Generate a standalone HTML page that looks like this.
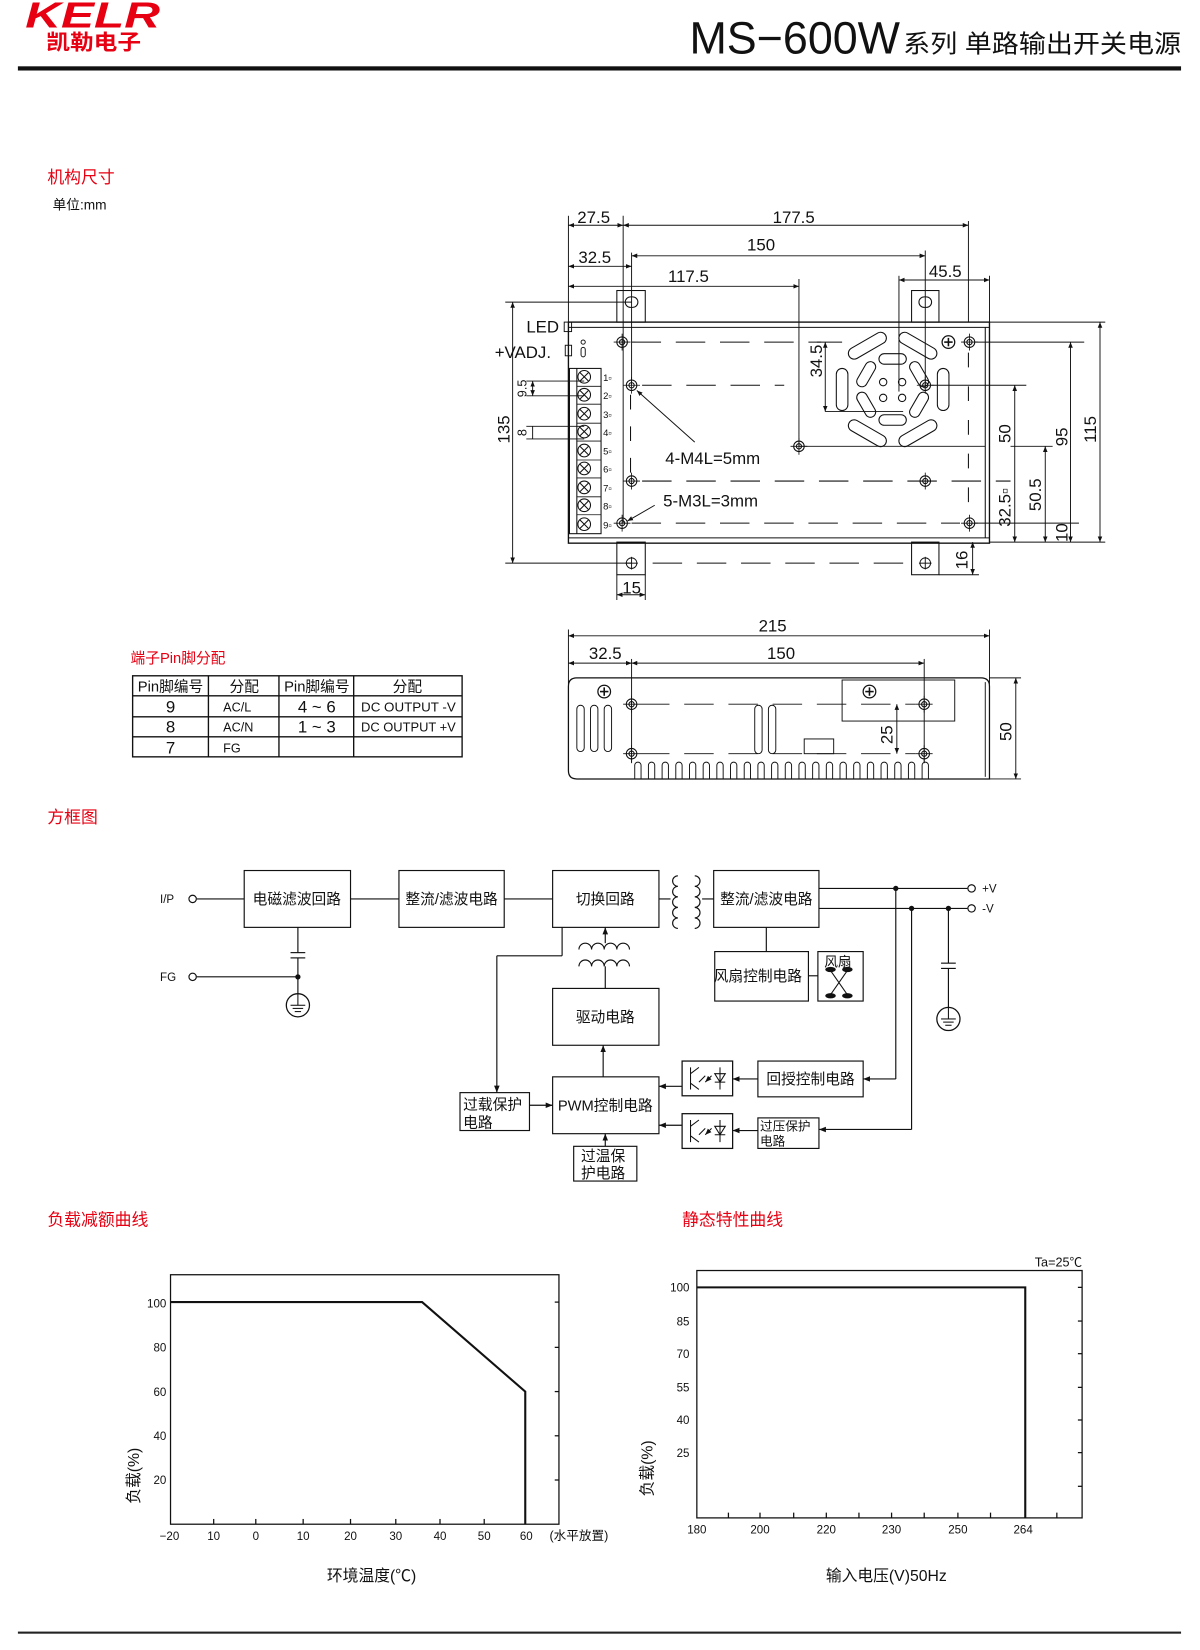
<!DOCTYPE html>
<html><head><meta charset="utf-8"><style>
html,body{margin:0;padding:0;background:#fff;}
svg{display:block;}
text{font-family:"Liberation Sans","Noto Sans CJK SC",sans-serif;fill:#111;}
.red{fill:#e60012;}
</style></head><body>
<svg width="1200" height="1650" viewBox="0 0 1140 1567.5" xmlns="http://www.w3.org/2000/svg">
<defs>
<marker id="a" viewBox="0 0 10 10" refX="10" refY="5" markerWidth="6" markerHeight="6" orient="auto-start-reverse"><path d="M0,1 L10,5 L0,9 z" fill="#111"/></marker>
<g id="hole"><circle r="5" fill="none" stroke="#111" stroke-width="1"/><circle r="2.5" fill="none" stroke="#111" stroke-width="1"/><line x1="-8" y1="0" x2="8" y2="0" stroke="#111" stroke-width="0.8"/><line x1="0" y1="-8" x2="0" y2="8" stroke="#111" stroke-width="0.8"/></g>
<g id="plus"><circle r="6" fill="none" stroke="#111" stroke-width="1.2"/><line x1="-4" y1="0" x2="4" y2="0" stroke="#111" stroke-width="1.5"/><line x1="0" y1="-4" x2="0" y2="4" stroke="#111" stroke-width="1.5"/></g>
<g id="tx"><circle r="6" fill="none" stroke="#111" stroke-width="1"/><line x1="-4" y1="-4" x2="4" y2="4" stroke="#111"/><line x1="-4" y1="4" x2="4" y2="-4" stroke="#111"/></g>
<g id="gnd"><circle r="11" fill="none" stroke="#111" stroke-width="1.2"/><line x1="-7" y1="0" x2="7" y2="0" stroke="#111"/><line x1="-5" y1="3" x2="5" y2="3" stroke="#111"/><line x1="-3" y1="6" x2="3" y2="6" stroke="#111"/><line x1="0" y1="-11" x2="0" y2="0" stroke="#111"/></g>
<g id="opto"><rect x="0" y="0" width="48" height="33" fill="#fff" stroke="#111" stroke-width="1.2"/><path d="M8,6 L8,27 M8,12 L16,6 M8,21 L16,27" stroke="#111" fill="none"/><path d="M22,14 L16,20 M28,14 L22,20" stroke="#111" marker-end="url(#a)"/><path d="M36,6 L36,27 M31,12 L41,12 L36,20 z M31,20 L41,20" stroke="#111" fill="none"/></g>
</defs>

<!-- HEADER -->
<text x="24" y="26" font-size="34" font-weight="bold" font-style="italic" class="red" textLength="128" lengthAdjust="spacingAndGlyphs">KELR</text>
<text x="44" y="47" font-size="20" font-weight="bold" class="red" textLength="90" lengthAdjust="spacingAndGlyphs">凯勒电子</text>
<text x="655" y="51" font-size="43" textLength="200" lengthAdjust="spacingAndGlyphs">MS−600W</text>
<text x="858" y="50" font-size="24" textLength="264" lengthAdjust="spacingAndGlyphs">系列 单路输出开关电源</text>
<rect x="17" y="63" width="1105" height="4" fill="#111"/>

<text x="45" y="174" font-size="16" class="red">机构尺寸</text>
<text x="50" y="199" font-size="13">单位:mm</text>

<!-- TOP VIEW DRAWING -->
<g stroke="#111" stroke-width="1" fill="none">
<rect x="586" y="276" width="27" height="30" fill="#fff"/>
<rect x="866" y="276" width="26" height="30" fill="#fff"/>
<rect x="594" y="282" width="12" height="10" rx="5"/>
<rect x="873" y="282" width="12" height="10" rx="5"/>
<rect x="586" y="515" width="27" height="31"/>
<rect x="866" y="515" width="26" height="31"/>
<rect x="540" y="306" width="400" height="210" stroke-width="1.3"/>
<line x1="540" y1="311" x2="940" y2="311"/>
<line x1="540" y1="511" x2="940" y2="511"/>
<line x1="936" y1="311" x2="936" y2="511"/>
<rect x="541" y="350" width="30" height="157"/>
<line x1="548" y1="350" x2="548" y2="507"/>
</g>
<g>
<use href="#tx" x="555" y="358"/><use href="#tx" x="555" y="375"/><use href="#tx" x="555" y="393"/><use href="#tx" x="555" y="410"/><use href="#tx" x="555" y="428"/><use href="#tx" x="555" y="445"/><use href="#tx" x="555" y="463"/><use href="#tx" x="555" y="480"/><use href="#tx" x="555" y="498"/>
</g>
<g stroke="#111" stroke-width="0.8">
<line x1="548" y1="367" x2="571" y2="367"/><line x1="548" y1="384" x2="571" y2="384"/><line x1="548" y1="402" x2="571" y2="402"/><line x1="548" y1="419" x2="571" y2="419"/><line x1="548" y1="437" x2="571" y2="437"/><line x1="548" y1="454" x2="571" y2="454"/><line x1="548" y1="472" x2="571" y2="472"/><line x1="548" y1="489" x2="571" y2="489"/>
</g>
<g font-size="9"><text x="573" y="362">1▫</text><text x="573" y="379">2▫</text><text x="573" y="397">3▫</text><text x="573" y="414">4▫</text><text x="573" y="432">5▫</text><text x="573" y="449">6▫</text><text x="573" y="467">7▫</text><text x="573" y="484">8▫</text><text x="573" y="502">9▫</text></g>
<!-- dashed lines -->
<g stroke="#111" stroke-width="1" stroke-dasharray="28,14" fill="none">
<line x1="600" y1="325" x2="780" y2="325"/>
<line x1="610" y1="366" x2="745" y2="366"/>
<line x1="610" y1="457" x2="960" y2="457"/>
<line x1="600" y1="497" x2="912" y2="497"/>
<line x1="620" y1="535" x2="866" y2="535"/>
<line x1="599" y1="375" x2="599" y2="450" stroke-dasharray="14,16"/>
<line x1="920" y1="335" x2="920" y2="490" stroke-dasharray="14,18"/>
</g>
<!-- extension/dim lines -->
<g stroke="#111" stroke-width="0.9" fill="none">
<line x1="540" y1="205" x2="540" y2="306"/>
<line x1="592" y1="205" x2="592" y2="497"/>
<line x1="600" y1="240" x2="600" y2="366"/>
<line x1="759" y1="265" x2="759" y2="424"/>
<line x1="879" y1="238" x2="879" y2="366"/>
<line x1="920" y1="210" x2="920" y2="306"/>
<line x1="940" y1="262" x2="940" y2="306"/>
<line x1="854" y1="262" x2="854" y2="372"/>
<line x1="540" y1="214" x2="592" y2="214" marker-start="url(#a)" marker-end="url(#a)"/>
<line x1="592" y1="214" x2="920" y2="214" marker-start="url(#a)" marker-end="url(#a)"/>
<line x1="540" y1="253" x2="600" y2="253" marker-start="url(#a)" marker-end="url(#a)"/>
<line x1="600" y1="243" x2="879" y2="243" marker-start="url(#a)" marker-end="url(#a)"/>
<line x1="540" y1="272" x2="759" y2="272" marker-start="url(#a)" marker-end="url(#a)"/>
<line x1="854" y1="266" x2="940" y2="266" marker-start="url(#a)" marker-end="url(#a)"/>
<line x1="480" y1="287" x2="600" y2="287"/>
<line x1="480" y1="535" x2="600" y2="535"/>
<line x1="487" y1="287" x2="487" y2="535" marker-start="url(#a)" marker-end="url(#a)"/>
<line x1="500" y1="362" x2="555" y2="362"/><line x1="500" y1="376" x2="555" y2="376"/>
<line x1="506" y1="362" x2="506" y2="376" marker-start="url(#a)" marker-end="url(#a)"/>
<line x1="500" y1="405" x2="555" y2="405"/><line x1="500" y1="417" x2="555" y2="417"/>
<line x1="506" y1="405" x2="506" y2="417"/>
<line x1="776" y1="325" x2="800" y2="325"/>
<line x1="784" y1="325" x2="784" y2="391" marker-start="url(#a)" marker-end="url(#a)"/>
<line x1="784" y1="391" x2="858" y2="391"/>
<line x1="759" y1="424" x2="936" y2="424"/>
<line x1="884" y1="366" x2="975" y2="366"/>
<line x1="964" y1="366" x2="964" y2="515" marker-start="url(#a)" marker-end="url(#a)"/>
<line x1="926" y1="325" x2="1030" y2="325"/>
<line x1="1017" y1="325" x2="1017" y2="515" marker-start="url(#a)" marker-end="url(#a)"/>
<line x1="940" y1="306" x2="1050" y2="306"/>
<line x1="940" y1="515" x2="1050" y2="515"/>
<line x1="1045" y1="306" x2="1045" y2="515" marker-start="url(#a)" marker-end="url(#a)"/>
<line x1="960" y1="424" x2="1000" y2="424"/>
<line x1="993" y1="424" x2="993" y2="515" marker-start="url(#a)" marker-end="url(#a)"/>
<line x1="926" y1="497" x2="1025" y2="497"/>
<line x1="892" y1="546" x2="930" y2="546"/>
<line x1="924" y1="515" x2="924" y2="546" marker-start="url(#a)" marker-end="url(#a)"/>
<line x1="586" y1="546" x2="586" y2="570"/><line x1="613" y1="546" x2="613" y2="570"/>
<line x1="586" y1="565" x2="613" y2="565" marker-start="url(#a)" marker-end="url(#a)"/>
<line x1="660" y1="420" x2="605" y2="371" marker-end="url(#a)"/>
<line x1="622" y1="480" x2="596" y2="495" marker-end="url(#a)"/>
<rect x="536" y="306" width="7" height="9"/>
<rect x="537" y="328" width="6" height="10"/>
<rect x="552" y="330" width="4" height="9" rx="2"/><circle cx="554" cy="325" r="2"/>
</g>
<g>
<use href="#hole" x="591" y="325"/><use href="#hole" x="600" y="366"/><use href="#hole" x="600" y="457"/><use href="#hole" x="591" y="497"/><use href="#hole" x="759" y="424"/><use href="#hole" x="879" y="366"/><use href="#hole" x="879" y="457"/><use href="#hole" x="921" y="325"/><use href="#hole" x="921" y="497"/>
<use href="#plus" x="901" y="325"/>
</g>
<g stroke="#111" stroke-width="0.9" fill="none"><line x1="594" y1="535" x2="606" y2="535"/><circle cx="600" cy="535" r="5"/><line x1="600" y1="529" x2="600" y2="541"/><circle cx="879" cy="535" r="5"/><line x1="873" y1="535" x2="885" y2="535"/><line x1="879" y1="529" x2="879" y2="541"/></g>
<!-- fan -->
<g stroke="#111" stroke-width="1" fill="none" transform="translate(848,370)">
<rect x="-20" y="-5.5" width="40" height="11" rx="5.5" transform="rotate(90) translate(0,48)"/>
<rect x="-20" y="-5.5" width="40" height="11" rx="5.5" transform="rotate(-90) translate(0,48)"/>
<rect x="-20" y="-5.5" width="40" height="11" rx="5.5" transform="rotate(-30) translate(0,-48)"/>
<rect x="-20" y="-5.5" width="40" height="11" rx="5.5" transform="rotate(30) translate(0,-48)"/>
<rect x="-20" y="-5.5" width="40" height="11" rx="5.5" transform="rotate(-30) translate(0,48)"/>
<rect x="-20" y="-5.5" width="40" height="11" rx="5.5" transform="rotate(30) translate(0,48)"/>
<rect x="-13" y="-5" width="26" height="10" rx="5" transform="translate(0,-29)"/>
<rect x="-13" y="-5" width="26" height="10" rx="5" transform="translate(0,29)"/>
<rect x="-13" y="-5" width="26" height="10" rx="5" transform="rotate(60) translate(0,-29)"/>
<rect x="-13" y="-5" width="26" height="10" rx="5" transform="rotate(-60) translate(0,-29)"/>
<rect x="-13" y="-5" width="26" height="10" rx="5" transform="rotate(60) translate(0,29)"/>
<rect x="-13" y="-5" width="26" height="10" rx="5" transform="rotate(-60) translate(0,29)"/>
<circle cx="-9" cy="-7" r="3.5"/><circle cx="9" cy="-7" r="3.5"/><circle cx="-9" cy="8" r="3.5"/><circle cx="9" cy="8" r="3.5"/>
</g>
<g font-size="16">
<text x="564" y="212" text-anchor="middle">27.5</text>
<text x="754" y="212" text-anchor="middle">177.5</text>
<text x="723" y="238" text-anchor="middle">150</text>
<text x="565" y="250" text-anchor="middle">32.5</text>
<text x="654" y="268" text-anchor="middle">117.5</text>
<text x="898" y="263" text-anchor="middle">45.5</text>
<text x="500" y="316">LED</text>
<text x="470" y="340">+VADJ.</text>
<text x="632" y="441">4-M4L=5mm</text>
<text x="630" y="481">5-M3L=3mm</text>
<text x="600" y="564" text-anchor="middle">15</text>
<text transform="translate(484,408) rotate(-90)" text-anchor="middle">135</text>
<text transform="translate(500,369) rotate(-90)" text-anchor="middle" font-size="12">9.5</text>
<text transform="translate(500,411) rotate(-90)" text-anchor="middle" font-size="12">8</text>
<text transform="translate(781,343) rotate(-90)" text-anchor="middle">34.5</text>
<text transform="translate(960,412) rotate(-90)" text-anchor="middle">50</text>
<text transform="translate(1014,415) rotate(-90)" text-anchor="middle">95</text>
<text transform="translate(1041,408) rotate(-90)" text-anchor="middle">115</text>
<text transform="translate(960,482) rotate(-90)" text-anchor="middle">32.5▫</text>
<text transform="translate(989,470) rotate(-90)" text-anchor="middle">50.5</text>
<text transform="translate(1014,506) rotate(-90)" text-anchor="middle">10</text>
<text transform="translate(919,532) rotate(-90)" text-anchor="middle">16</text>
</g>

<!-- SIDE VIEW -->
<g stroke="#111" stroke-width="0.9" fill="none">
<line x1="540" y1="598" x2="540" y2="650"/><line x1="940" y1="598" x2="940" y2="650"/>
<line x1="540" y1="604" x2="940" y2="604" marker-start="url(#a)" marker-end="url(#a)"/>
<line x1="600" y1="626" x2="600" y2="725"/><line x1="878" y1="626" x2="878" y2="725"/>
<line x1="540" y1="630" x2="600" y2="630" marker-start="url(#a)" marker-end="url(#a)"/>
<line x1="600" y1="630" x2="878" y2="630" marker-start="url(#a)" marker-end="url(#a)"/>
<path d="M548,644 L932,644 Q940,644 940,652 L940,740 L548,740 Q540,740 540,732 L540,652 Q540,644 548,644 Z" stroke-width="1.2"/>
<line x1="936" y1="648" x2="936" y2="738"/>
<line x1="940" y1="644" x2="970" y2="644"/><line x1="940" y1="740" x2="970" y2="740"/>
<line x1="965" y1="644" x2="965" y2="740" marker-start="url(#a)" marker-end="url(#a)"/>
<rect x="800" y="646" width="107" height="39"/>
<line x1="852" y1="669" x2="852" y2="716" marker-start="url(#a)" marker-end="url(#a)"/>
<rect x="764" y="702" width="28" height="14"/>
<rect x="548" y="670" width="7" height="44" rx="3.5"/><rect x="561" y="670" width="7" height="44" rx="3.5"/><rect x="574" y="670" width="7" height="44" rx="3.5"/>
<rect x="717" y="670" width="7" height="46" rx="3.5"/><rect x="730" y="670" width="7" height="46" rx="3.5"/>
<g stroke-dasharray="28,14"><line x1="608" y1="669" x2="870" y2="669"/><line x1="608" y1="716" x2="870" y2="716"/></g>
</g>
<g stroke="#111" stroke-width="0.9" fill="none">
<path d="M603,740 v-13 a3,3 0 0 1 6,0 v13 M616,740 v-13 a3,3 0 0 1 6,0 v13 M629,740 v-13 a3,3 0 0 1 6,0 v13 M642,740 v-13 a3,3 0 0 1 6,0 v13 M655,740 v-13 a3,3 0 0 1 6,0 v13 M668,740 v-13 a3,3 0 0 1 6,0 v13 M681,740 v-13 a3,3 0 0 1 6,0 v13 M694,740 v-13 a3,3 0 0 1 6,0 v13 M707,740 v-13 a3,3 0 0 1 6,0 v13 M720,740 v-13 a3,3 0 0 1 6,0 v13 M733,740 v-13 a3,3 0 0 1 6,0 v13 M746,740 v-13 a3,3 0 0 1 6,0 v13 M759,740 v-13 a3,3 0 0 1 6,0 v13 M772,740 v-13 a3,3 0 0 1 6,0 v13 M785,740 v-13 a3,3 0 0 1 6,0 v13 M798,740 v-13 a3,3 0 0 1 6,0 v13 M811,740 v-13 a3,3 0 0 1 6,0 v13 M824,740 v-13 a3,3 0 0 1 6,0 v13 M837,740 v-13 a3,3 0 0 1 6,0 v13 M850,740 v-13 a3,3 0 0 1 6,0 v13 M863,740 v-13 a3,3 0 0 1 6,0 v13 M876,740 v-13 a3,3 0 0 1 6,0 v13"/>
</g>
<use href="#hole" x="600" y="669"/><use href="#hole" x="600" y="716"/><use href="#hole" x="878" y="669"/><use href="#hole" x="878" y="716"/>
<use href="#plus" x="574" y="657"/><use href="#plus" x="826" y="657"/>
<g font-size="16">
<text x="734" y="600" text-anchor="middle">215</text>
<text x="575" y="626" text-anchor="middle">32.5</text>
<text x="742" y="626" text-anchor="middle">150</text>
<text transform="translate(961,695) rotate(-90)" text-anchor="middle">50</text>
<text transform="translate(848,698) rotate(-90)" text-anchor="middle">25</text>
</g>

<!-- PIN TABLE -->
<text x="124" y="630" font-size="14" class="red">端子Pin脚分配</text>
<g stroke="#111" stroke-width="1.3" fill="none">
<rect x="126" y="642" width="313" height="77"/>
<line x1="126" y1="661" x2="439" y2="661"/><line x1="126" y1="681" x2="439" y2="681"/><line x1="126" y1="700" x2="439" y2="700"/>
<line x1="198" y1="642" x2="198" y2="719"/><line x1="265" y1="642" x2="265" y2="719"/><line x1="336" y1="642" x2="336" y2="719"/>
</g>
<g font-size="14" text-anchor="middle">
<text x="162" y="657">Pin脚编号</text><text x="232" y="657">分配</text><text x="301" y="657">Pin脚编号</text><text x="387" y="657">分配</text>
<text x="162" y="677" font-size="16">9</text><text x="162" y="696" font-size="16">8</text><text x="162" y="716" font-size="16">7</text>
<text x="301" y="677" font-size="16">4 ~ 6</text><text x="301" y="696" font-size="16">1 ~ 3</text>
</g>
<g font-size="12">
<text x="212" y="676">AC/L</text><text x="212" y="695">AC/N</text><text x="212" y="715">FG</text>
<text x="343" y="676" textLength="90" lengthAdjust="spacingAndGlyphs">DC OUTPUT -V</text><text x="343" y="695" textLength="90" lengthAdjust="spacingAndGlyphs">DC OUTPUT +V</text>
</g>

<!-- BLOCK DIAGRAM -->
<text x="45" y="782" font-size="16" class="red">方框图</text>
<g stroke="#111" stroke-width="1.1" fill="none">
<rect x="232" y="827" width="101" height="54"/>
<rect x="379" y="827" width="100" height="54"/>
<rect x="525" y="827" width="101" height="54"/>
<rect x="678" y="827" width="100" height="54"/>
<rect x="525" y="939" width="101" height="54"/>
<rect x="525" y="1023" width="101" height="54"/>
<rect x="437" y="1038" width="66" height="36"/>
<rect x="545" y="1089" width="60" height="33"/>
<rect x="720" y="1008" width="100" height="34"/>
<rect x="720" y="1062" width="58" height="29"/>
<rect x="679" y="904" width="89" height="47"/>
<rect x="777" y="904" width="43" height="47"/>
<circle cx="183" cy="854" r="3.5"/><circle cx="183" cy="928" r="3.5"/>
<line x1="187" y1="854" x2="232" y2="854"/>
<line x1="333" y1="854" x2="379" y2="854"/>
<line x1="479" y1="854" x2="525" y2="854"/>
<line x1="626" y1="854" x2="637" y2="854"/><line x1="667" y1="854" x2="678" y2="854"/>
<path d="M644,832 a5,5 0 0 0 0,10 a5,5 0 0 0 0,10 a5,5 0 0 0 0,10 a5,5 0 0 0 0,10 a5,5 0 0 0 0,10"/>
<path d="M660,832 a5,5 0 0 1 0,10 a5,5 0 0 1 0,10 a5,5 0 0 1 0,10 a5,5 0 0 1 0,10 a5,5 0 0 1 0,10"/>
<path d="M550,902 a6,6 0 0 1 12,0 a6,6 0 0 1 12,0 a6,6 0 0 1 12,0 a6,6 0 0 1 12,0"/>
<path d="M550,918 a6,6 0 0 1 12,0 a6,6 0 0 1 12,0 a6,6 0 0 1 12,0 a6,6 0 0 1 12,0"/>
<line x1="575" y1="918" x2="575" y2="939"/>
<line x1="575" y1="896" x2="575" y2="881" marker-end="url(#a)"/>
<line x1="283" y1="881" x2="283" y2="905"/>
<line x1="276" y1="905" x2="290" y2="905"/><line x1="276" y1="910" x2="290" y2="910"/>
<line x1="283" y1="910" x2="283" y2="944"/>
<line x1="187" y1="928" x2="283" y2="928"/>
<line x1="534" y1="881" x2="534" y2="908"/><line x1="534" y1="908" x2="472" y2="908"/>
<line x1="472" y1="908" x2="472" y2="1038" marker-end="url(#a)"/>
<line x1="503" y1="1050" x2="525" y2="1050" marker-end="url(#a)"/>
<line x1="573" y1="1023" x2="573" y2="993" marker-end="url(#a)"/>
<line x1="575" y1="1089" x2="575" y2="1077" marker-end="url(#a)"/>
<line x1="778" y1="844" x2="919" y2="844"/><circle cx="923" cy="844" r="3.5"/>
<line x1="778" y1="863" x2="919" y2="863"/><circle cx="923" cy="863" r="3.5"/>
<line x1="851" y1="844" x2="851" y2="1025"/><line x1="851" y1="1025" x2="820" y2="1025" marker-end="url(#a)"/>
<line x1="866" y1="863" x2="866" y2="1073"/><line x1="866" y1="1073" x2="778" y2="1073" marker-end="url(#a)"/>
<line x1="901" y1="863" x2="901" y2="915"/>
<line x1="894" y1="915" x2="908" y2="915"/><line x1="894" y1="920" x2="908" y2="920"/>
<line x1="901" y1="920" x2="901" y2="957"/>
<line x1="728" y1="881" x2="728" y2="904"/>
<line x1="768" y1="927" x2="777" y2="927"/>
<line x1="720" y1="1025" x2="696" y2="1025" marker-end="url(#a)"/>
<line x1="720" y1="1074" x2="696" y2="1074" marker-end="url(#a)"/>
<line x1="648" y1="1032" x2="626" y2="1032" marker-end="url(#a)"/>
<line x1="648" y1="1069" x2="626" y2="1069" marker-end="url(#a)"/>
<path d="M789,922 L805,945 M805,922 L789,945" stroke-width="1"/>
</g>
<g fill="#111"><circle cx="283" cy="928" r="2.5"/><circle cx="851" cy="844" r="2.5"/><circle cx="866" cy="863" r="2.5"/><circle cx="901" cy="863" r="2.5"/>
<ellipse cx="789" cy="921" rx="5" ry="2.5"/><ellipse cx="805" cy="921" rx="5" ry="2.5"/><ellipse cx="789" cy="946" rx="5" ry="2.5"/><ellipse cx="805" cy="946" rx="5" ry="2.5"/></g>
<use href="#gnd" x="283" y="955"/><use href="#gnd" x="901" y="968"/>
<use href="#opto" x="648" y="1008"/><use href="#opto" x="648" y="1058"/>
<g font-size="14">
<text x="282" y="859" text-anchor="middle">电磁滤波回路</text>
<text x="429" y="859" text-anchor="middle">整流/滤波电路</text>
<text x="575" y="859" text-anchor="middle">切换回路</text>
<text x="728" y="859" text-anchor="middle">整流/滤波电路</text>
<text x="575" y="971" text-anchor="middle">驱动电路</text>
<text x="575" y="1055" text-anchor="middle">PWM控制电路</text>
<text x="678" y="932" font-size="14">风扇控制电路</text>
<text x="783" y="918" font-size="13">风扇</text>
<text x="770" y="1030" text-anchor="middle">回授控制电路</text>
<text x="440" y="1054">过载保护</text><text x="440" y="1071">电路</text>
<text x="552" y="1103">过温保</text><text x="552" y="1119">护电路</text>
<text x="722" y="1074" font-size="12">过压保护</text><text x="722" y="1088" font-size="12">电路</text>
</g>
<g font-size="11"><text x="152" y="858">I/P</text><text x="152" y="932">FG</text><text x="933" y="848">+V</text><text x="933" y="867">-V</text></g>

<!-- CHART 1 -->
<text x="45" y="1164" font-size="16" class="red">负载减额曲线</text>
<rect x="162" y="1211" width="369" height="237" fill="none" stroke="#111" stroke-width="1.2"/>
<polyline points="162,1237 401,1237 499,1322 499,1448" fill="none" stroke="#111" stroke-width="2"/>
<g stroke="#111" stroke-width="1.2">
<line x1="527" y1="1237" x2="531" y2="1237"/><line x1="527" y1="1280" x2="531" y2="1280"/><line x1="527" y1="1322" x2="531" y2="1322"/><line x1="527" y1="1364" x2="531" y2="1364"/><line x1="527" y1="1406" x2="531" y2="1406"/>
<line x1="203" y1="1443" x2="203" y2="1448"/><line x1="243" y1="1443" x2="243" y2="1448"/><line x1="288" y1="1443" x2="288" y2="1448"/><line x1="333" y1="1443" x2="333" y2="1448"/><line x1="376" y1="1443" x2="376" y2="1448"/><line x1="418" y1="1443" x2="418" y2="1448"/><line x1="460" y1="1443" x2="460" y2="1448"/>
</g>
<g font-size="11" text-anchor="end">
<text x="158" y="1242">100</text><text x="158" y="1284">80</text><text x="158" y="1326">60</text><text x="158" y="1368">40</text><text x="158" y="1410">20</text>
</g>
<g font-size="11" text-anchor="middle">
<text x="161" y="1463">−20</text><text x="203" y="1463">10</text><text x="243" y="1463">0</text><text x="288" y="1463">10</text><text x="333" y="1463">20</text><text x="376" y="1463">30</text><text x="418" y="1463">40</text><text x="460" y="1463">50</text><text x="500" y="1463">60</text>
</g>
<text x="522" y="1463" font-size="12">(水平放置)</text>
<text transform="translate(132,1402) rotate(-90)" font-size="15" text-anchor="middle">负载(%)</text>
<text x="353" y="1502" font-size="15" text-anchor="middle">环境温度(℃)</text>

<!-- CHART 2 -->
<text x="648" y="1164" font-size="16" class="red">静态特性曲线</text>
<text x="983" y="1203" font-size="12">Ta=25℃</text>
<rect x="662" y="1207" width="366" height="235" fill="none" stroke="#111" stroke-width="1.2"/>
<polyline points="662,1223 974,1223 974,1442" fill="none" stroke="#111" stroke-width="2"/>
<g stroke="#111" stroke-width="1.2">
<line x1="1024" y1="1223" x2="1028" y2="1223"/><line x1="1024" y1="1255" x2="1028" y2="1255"/><line x1="1024" y1="1286" x2="1028" y2="1286"/><line x1="1024" y1="1318" x2="1028" y2="1318"/><line x1="1024" y1="1349" x2="1028" y2="1349"/><line x1="1024" y1="1380" x2="1028" y2="1380"/><line x1="1024" y1="1412" x2="1028" y2="1412"/>
<line x1="692" y1="1437" x2="692" y2="1442"/><line x1="722" y1="1437" x2="722" y2="1442"/><line x1="754" y1="1437" x2="754" y2="1442"/><line x1="785" y1="1437" x2="785" y2="1442"/><line x1="816" y1="1437" x2="816" y2="1442"/><line x1="847" y1="1437" x2="847" y2="1442"/><line x1="878" y1="1437" x2="878" y2="1442"/><line x1="910" y1="1437" x2="910" y2="1442"/><line x1="941" y1="1437" x2="941" y2="1442"/><line x1="1004" y1="1437" x2="1004" y2="1442"/>
</g>
<g font-size="11" text-anchor="end">
<text x="655" y="1227">100</text><text x="655" y="1259">85</text><text x="655" y="1290">70</text><text x="655" y="1322">55</text><text x="655" y="1353">40</text><text x="655" y="1384">25</text>
</g>
<g font-size="11" text-anchor="middle">
<text x="662" y="1457">180</text><text x="722" y="1457">200</text><text x="785" y="1457">220</text><text x="847" y="1457">230</text><text x="910" y="1457">250</text><text x="972" y="1457">264</text>
</g>
<text transform="translate(620,1395) rotate(-90)" font-size="15" text-anchor="middle">负载(%)</text>
<text x="842" y="1502" font-size="15" text-anchor="middle">输入电压(V)50Hz</text>

<rect x="17" y="1550" width="1105" height="2" fill="#222"/>
</svg>
</body></html>
